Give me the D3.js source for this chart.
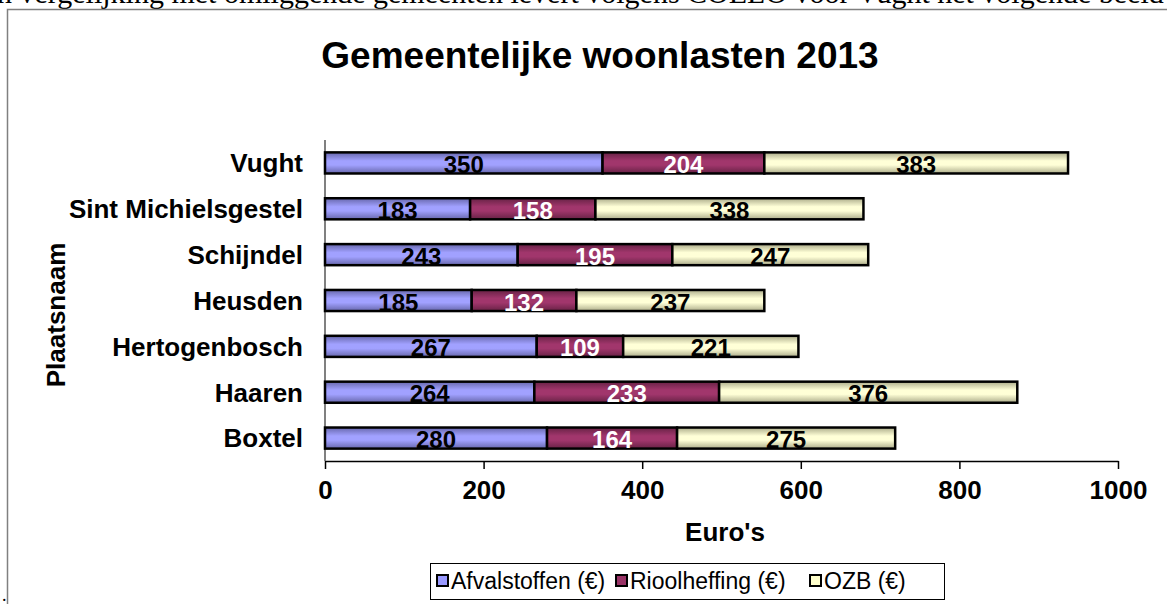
<!DOCTYPE html>
<html>
<head>
<meta charset="utf-8">
<script src="https://cdn.jsdelivr.net/npm/d3@7"></script>
<style>
  body { margin: 0; background: #fff; }
  svg { display: block; }
</style>
</head>
<body>
<svg id="chart"></svg>
<script>
/* Data */
const places = ['Vught', 'Sint Michielsgestel', 'Schijndel', 'Heusden', 'Hertogenbosch', 'Haaren', 'Boxtel'];
const afval = [350, 183, 243, 185, 267, 264, 280];
const riool = [204, 158, 195, 132, 109, 233, 164];
const ozb = [383, 338, 247, 237, 221, 376, 275];
const seriesNames = ['Afvalstoffen (€)', 'Rioolheffing (€)', 'OZB (€)'];
const xTicks = [0, 200, 400, 600, 800, 1000];

/* Build rows for stacking */
const keys = ['afval', 'riool', 'ozb'];
const rows = places.map((p, i) => ({ place: p, afval: afval[i], riool: riool[i], ozb: ozb[i] }));

const W = 1167, H = 604;
const FONT = '"Liberation Sans", Arial, sans-serif';
const svg = d3.select('#chart').attr('width', W).attr('height', H);

/* Gradients for the bar fills */
const colors = { afval: '#9999ff', riool: '#993366', ozb: '#ffffcc' };
const defs = svg.append('defs');
keys.forEach(k => {
    const c = d3.color(colors[k]);
    const g = defs.append('linearGradient').attr('id', 'grad-' + k)
        .attr('x1', 0).attr('y1', 0).attr('x2', 0).attr('y2', 1);
    g.append('stop').attr('offset', '0%').attr('stop-color', c.darker(1.1));
    g.append('stop').attr('offset', '40%').attr('stop-color', c.brighter(0.15));
    g.append('stop').attr('offset', '60%').attr('stop-color', c.brighter(0.15));
    g.append('stop').attr('offset', '100%').attr('stop-color', c.darker(1.1));
});

/* Clipped sentence above the chart box */
svg.append('text')
    .attr('x', -13).attr('y', 3)
    .style('font-family', '"Liberation Serif", "Times New Roman", serif')
    .style('font-size', '30px')
    .text('In vergelijking met omliggende gemeenten levert volgens COELO voor Vught het volgende beeld op');

/* Chart frame */
svg.append('rect')
    .attr('x', 7.5).attr('y', 9.5).attr('width', W + 20).attr('height', H + 20)
    .attr('fill', '#fff').attr('stroke', '#808080').attr('stroke-width', 1.5);

svg.append('text')
    .attr('x', 2).attr('y', 601)
    .style('font-family', '"Liberation Serif", serif')
    .style('font-size', '18px')
    .text('.');

/* Title */
svg.append('text')
    .attr('x', 600).attr('y', 68)
    .attr('text-anchor', 'middle')
    .style('font-family', FONT)
    .style('font-weight', 'bold')
    .style('font-size', '37px')
    .text('Gemeentelijke woonlasten 2013');

/* Scales */
const x = d3.scaleLinear().domain([0, 1000]).range([325, 1118]);
const y = d3.scaleBand().domain(places).range([140, 461]).paddingInner(0.54).paddingOuter(0.27);

const stack = d3.stack().keys(keys)(rows);

/* Y axis line (grey) */
svg.append('line')
    .attr('x1', 325).attr('x2', 325).attr('y1', 140).attr('y2', 461)
    .attr('stroke', '#808080').attr('stroke-width', 2);

/* X axis */
const xAxis = svg.append('g')
    .attr('transform', 'translate(0,461)')
    .call(d3.axisBottom(x).tickValues(xTicks).tickFormat(d3.format('d'))
        .tickSize(8).tickSizeOuter(0).tickPadding(12));
xAxis.select('.domain').attr('stroke', '#000').attr('stroke-width', 1.5);
xAxis.selectAll('.tick line').attr('stroke', '#000').attr('stroke-width', 1.5);
xAxis.selectAll('.tick text')
    .style('font-family', FONT)
    .style('font-weight', 'bold')
    .style('font-size', '26px')
    .attr('fill', '#000');

/* Category labels */
svg.append('g').selectAll('text')
    .data(places)
    .join('text')
    .attr('x', 303)
    .attr('y', d => y(d) + y.bandwidth() / 2)
    .attr('dy', '0.36em')
    .attr('text-anchor', 'end')
    .style('font-family', FONT)
    .style('font-weight', 'bold')
    .style('font-size', '26px')
    .text(d => d);

/* Bars */
const layers = svg.append('g').selectAll('g')
    .data(stack)
    .join('g');

layers.selectAll('rect')
    .data(d => d.map(s => ({ key: d.key, s: s })))
    .join('rect')
    .attr('x', d => x(d.s[0]))
    .attr('y', d => y(d.s.data.place))
    .attr('width', d => x(d.s[1]) - x(d.s[0]))
    .attr('height', y.bandwidth())
    .attr('fill', d => 'url(#grad-' + d.key + ')')
    .attr('stroke', '#000')
    .attr('stroke-width', 2.5);

/* Value labels */
layers.selectAll('text')
    .data(d => d.map(s => ({ key: d.key, s: s })))
    .join('text')
    .attr('x', d => (x(d.s[0]) + x(d.s[1])) / 2)
    .attr('y', d => y(d.s.data.place) + y.bandwidth())
    .attr('dy', '-0.5')
    .attr('text-anchor', 'middle')
    .style('font-family', FONT)
    .style('font-weight', 'bold')
    .style('font-size', '24px')
    .attr('fill', d => d.key === 'riool' ? '#fff' : '#000')
    .text(d => d.s.data[d.key]);

/* Axis titles */
svg.append('text')
    .attr('x', 725).attr('y', 541)
    .attr('text-anchor', 'middle')
    .style('font-family', FONT)
    .style('font-weight', 'bold')
    .style('font-size', '26px')
    .text("Euro's");

svg.append('text')
    .attr('transform', 'translate(65,315) rotate(-90)')
    .attr('text-anchor', 'middle')
    .style('font-family', FONT)
    .style('font-weight', 'bold')
    .style('font-size', '26px')
    .text('Plaatsnaam');

/* Legend */
const legend = svg.append('g');
legend.append('rect')
    .attr('x', 430.5).attr('y', 563.5).attr('width', 514).attr('height', 36)
    .attr('fill', '#fff').attr('stroke', '#000').attr('stroke-width', 1);

const legendX = [437, 616, 810];
keys.forEach((k, i) => {
    const item = legend.append('g').attr('transform', `translate(${legendX[i]},581)`);
    item.append('rect')
        .attr('x', 0).attr('y', -6).attr('width', 11).attr('height', 11)
        .attr('fill', colors[k]).attr('stroke', '#000').attr('stroke-width', 2);
    item.append('text')
        .attr('x', 14).attr('dy', '0.36em')
        .style('font-family', FONT)
        .style('font-size', '23px')
        .text(seriesNames[i]);
});
</script>
</body>
</html>
